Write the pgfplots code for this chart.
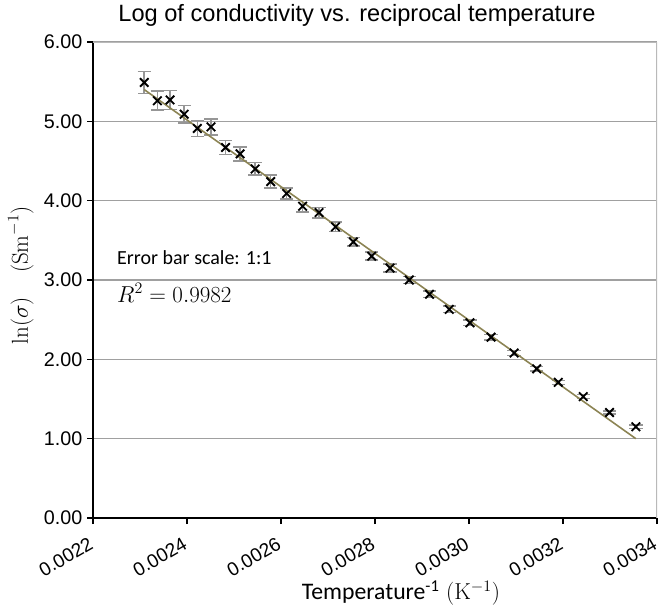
\documentclass[border=0pt]{standalone}
\usepackage{pgfplots}
\pgfplotsset{compat=1.18}
\usepackage{pgfplotstable}
\usepackage[no-math]{fontspec}
\setmainfont{Liberation Sans}
\newfontfamily\carlito{Carlito}
\definecolor{trend}{RGB}{140,132,84}
\definecolor{errgray}{RGB}{150,150,150}
\definecolor{gridgray}{RGB}{160,160,160}
\pgfplotstableread{
x y err
0.002309 5.49 0.14
0.002337 5.26 0.12
0.002364 5.27 0.12
0.002394 5.09 0.11
0.002422 4.91 0.10
0.002451 4.93 0.10
0.002482 4.67 0.09
0.002513 4.59 0.09
0.002545 4.40 0.08
0.002578 4.24 0.08
0.002612 4.09 0.07
0.002646 3.93 0.07
0.002681 3.85 0.065
0.002716 3.67 0.06
0.002754 3.48 0.055
0.002793 3.30 0.05
0.002832 3.15 0.05
0.002873 3.00 0.045
0.002916 2.82 0.04
0.002958 2.63 0.04
0.003002 2.46 0.035
0.003047 2.28 0.035
0.003096 2.08 0.03
0.003144 1.88 0.03
0.003190 1.71 0.025
0.003243 1.53 0.025
0.003299 1.33 0.02
0.003355 1.15 0.02
}\datatable
\begin{document}
\begin{tikzpicture}
\begin{axis}[
  scale only axis, width=423pt, height=357pt,
  xmin=0.0022, xmax=0.0034, ymin=0, ymax=6,
  xtick={0.0022,0.0024,0.0026,0.0028,0.0030,0.0032,0.0034},
  ytick={0,1,2,3,4,5,6},
  scaled x ticks=false,
  axis x line*=bottom, axis y line*=left,
  axis line style={black, line width=1.5pt},
  tick align=outside, major tick length=4.5pt,
  every tick/.style={black, line width=1pt},
  ymajorgrids, major grid style={gridgray, line width=1.1pt},
  tick label style={font=\fontsize{14.8}{17}\selectfont},
  /pgf/number format/assume math mode=true,
  x tick label style={font=\fontsize{14.3}{17}\selectfont, rotate=30, anchor=north east, xshift=-4.5pt, yshift=-2.5pt,
    /pgf/number format/.cd, fixed, fixed zerofill, precision=4},
  y tick label style={/pgf/number format/.cd, fixed, fixed zerofill, precision=2},
  title={Log of conductivity vs. reciprocal temperature},
  title style={font=\fontsize{17.7}{20}\selectfont, at={(axis description cs:0.468,1)}, anchor=base, yshift=9.5pt},
  ylabel={$\ln(\sigma)\quad(\mathrm{Sm}^{-1})$},
  ylabel style={font=\fontsize{18}{21}\selectfont, at={(axis description cs:-0.128,0.51)}, anchor=center},
  xlabel={{\carlito Temperature\textsuperscript{-1}} $(\mathrm{K}^{-1})$},
  xlabel style={font=\fontsize{17.8}{20}\selectfont, at={(axis description cs:0.546,-0.158)}, anchor=center},
]
\draw[gray!55, line width=1.5pt] (rel axis cs:0,1) -- (rel axis cs:1,1) -- (rel axis cs:1,0);
\addplot[only marks, mark=x, mark size=4.5pt, mark options={black, line width=1.4pt},
  error bars/.cd, y dir=both, y explicit,
  error bar style={errgray, line width=1.2pt},
  error mark options={errgray, rotate=90, mark size=5pt, line width=1.2pt}]
  table[x=x, y=y, y error=err] {\datatable};
\addplot[trend, line width=1.2pt] coordinates {(0.002309,5.40) (0.003355,1.00)};
\node[anchor=west, inner sep=0pt, font=\carlito\fontsize{15}{18}\selectfont] at (axis cs:0.002251,3.28) {Error bar scale: 1:1};
\node[anchor=west, inner sep=0pt, font=\fontsize{17.2}{20}\selectfont] at (axis cs:0.002251,2.84) {$R^2 = 0.9982$};
\end{axis}
\pgfresetboundingbox
\path (-69.75pt,-71.25pt) rectangle (425.25pt,388.5pt);
\end{tikzpicture}
\end{document}
